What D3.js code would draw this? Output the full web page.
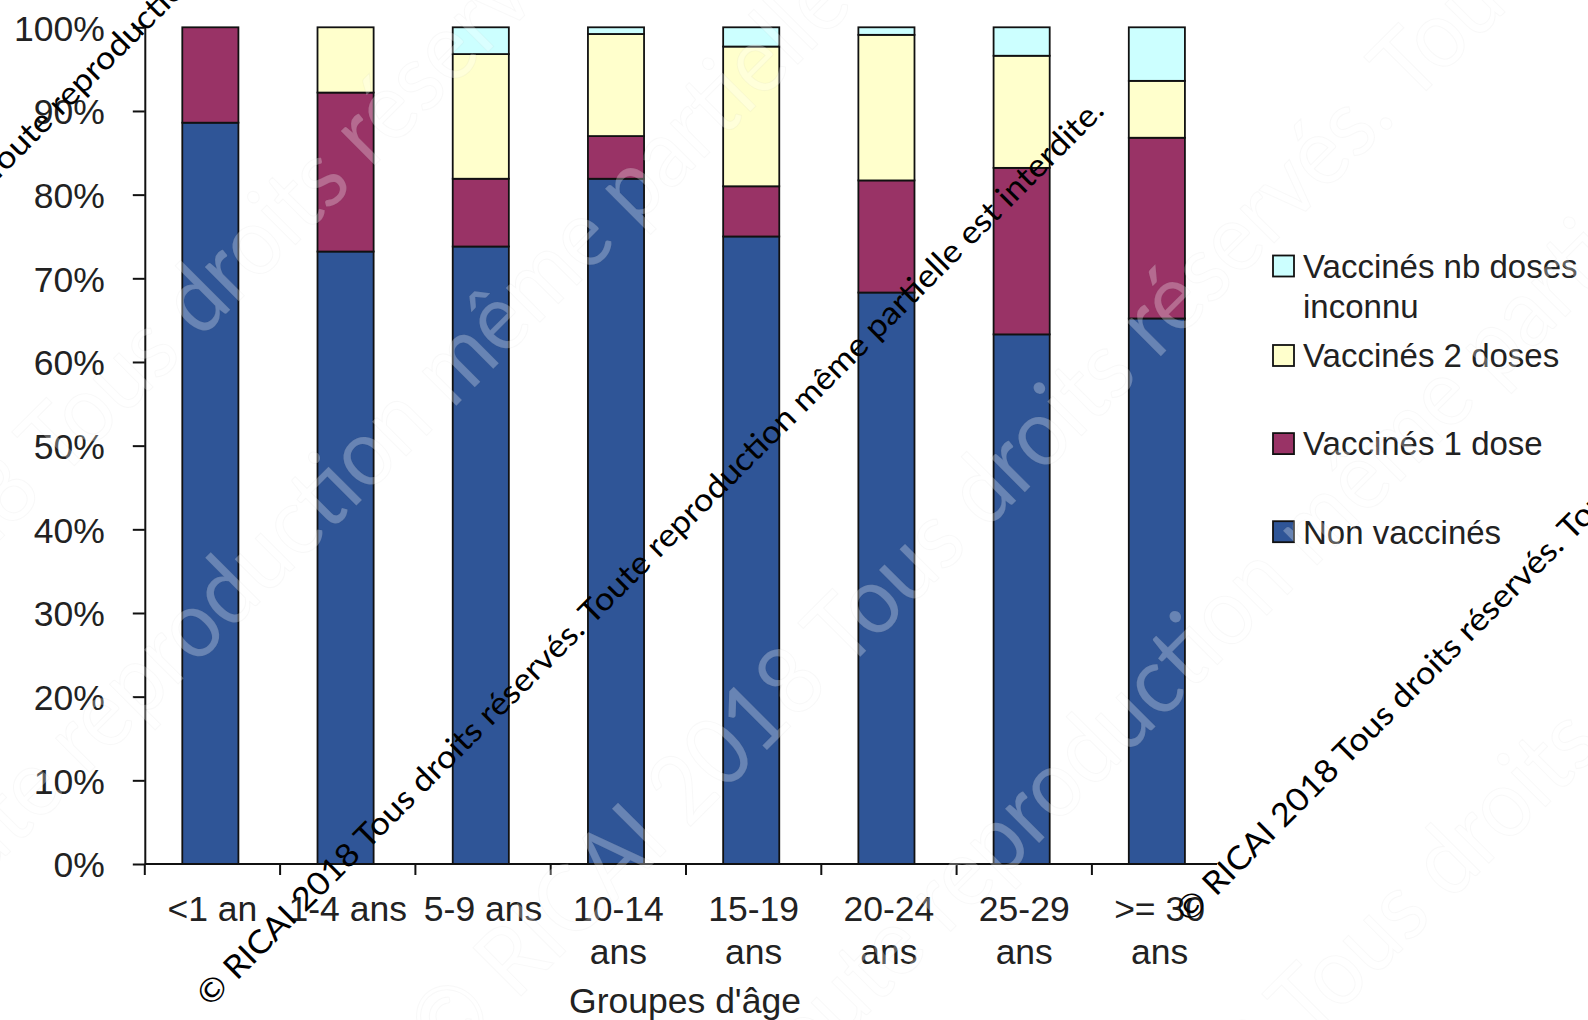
<!DOCTYPE html>
<html><head><meta charset="utf-8">
<script src="https://cdn.jsdelivr.net/npm/d3@7"></script>
<style>html,body{margin:0;padding:0;background:#fff;} svg{display:block}</style>
</head><body>
<script>
// ---------- data ----------
const categories = ["<1 an","1-4 ans","5-9 ans","10-14 ans","15-19 ans","20-24 ans","25-29 ans",">= 30 ans"];
const categoryLabelLines = [["<1 an"],["1-4 ans"],["5-9 ans"],["10-14","ans"],["15-19","ans"],["20-24","ans"],["25-29","ans"],[">= 30","ans"]];
const seriesKeys = ["Non vaccinés","Vaccinés 1 dose","Vaccinés 2 doses","Vaccinés nb doses inconnu"];
const nonVaccines     = [88.6, 73.2, 73.8, 81.9, 75.0, 68.3, 63.3, 65.2];
const vaccines1Dose   = [11.4, 19.0,  8.1,  5.1,  6.0, 13.4, 19.9, 21.6];
const vaccines2Doses  = [ 0.0,  7.8, 14.9, 12.2, 16.7, 17.4, 13.4,  6.8];
const vaccinesInconnu = [ 0.0,  0.0,  3.2,  0.8,  2.3,  0.9,  3.4,  6.4];
const seriesColors = ["#2F5597","#993366","#FFFFCC","#CCFFFF"];
const yTicks = [0,10,20,30,40,50,60,70,80,90,100];
const legendOrder = [3,2,1,0];
const legendLabelLines = [["Vaccinés nb doses","inconnu"],["Vaccinés 2 doses"],["Vaccinés 1 dose"],["Non vaccinés"]];
const xTitle = "Groupes d'âge";
const watermarkText = "© RICAI 2018 Tous droits réservés. Toute reproduction même partielle est interdite.";

// ---------- layout ----------
const W = 1588, H = 1020;
const X0 = 144.8, X1 = 1227.2, Y0 = 864, Y100 = 27.3;
const FONT = "'Liberation Sans', Arial, sans-serif";
const WM_FONT = "Lato, 'Open Sans', sans-serif";
const TXT = "#222";

const svg = d3.select("body").append("svg").attr("width", W).attr("height", H);

const rows = categories.map((c, i) => ({
  cat: c,
  [seriesKeys[0]]: nonVaccines[i],
  [seriesKeys[1]]: vaccines1Dose[i],
  [seriesKeys[2]]: vaccines2Doses[i],
  [seriesKeys[3]]: vaccinesInconnu[i]
}));
const stacked = d3.stack().keys(seriesKeys)(rows);

const x = d3.scaleBand().domain(categories).range([X0, X1])
  .paddingInner(0.585).paddingOuter(0.295).align(0.47);
const xCat = d3.scaleBand().domain(categories).range([X0, X1]).padding(0);
const y = d3.scaleLinear().domain([0, 100]).range([Y0, Y100]);
const color = d3.scaleOrdinal().domain(seriesKeys).range(seriesColors);

// ---------- bars ----------
const barsG = svg.append("g");
barsG.selectAll("g.series").data(stacked).join("g")
  .attr("fill", d => color(d.key))
  .selectAll("rect").data(d => d.filter(p => p[1] - p[0] > 0)).join("rect")
  .attr("x", d => x(d.data.cat))
  .attr("width", x.bandwidth())
  .attr("y", d => y(d[1]))
  .attr("height", d => y(d[0]) - y(d[1]))
  .attr("stroke", "#111").attr("stroke-width", 1.8);

// ---------- y axis ----------
const yAxis = d3.axisLeft(y).tickValues(yTicks).tickSize(12).tickSizeOuter(0)
  .tickPadding(28).tickFormat(d => d + "%");
const yG = svg.append("g").attr("transform", `translate(${X0},0)`).call(yAxis);
yG.select(".domain").attr("stroke", "#111").attr("stroke-width", 2);
yG.selectAll(".tick line").attr("stroke", "#111").attr("stroke-width", 2);
yG.selectAll(".tick text").attr("fill", TXT).style("font-family", FONT).style("font-size", "35.5px").attr("dy", "0.36em");

// ---------- x axis ----------
const xG = svg.append("g");
xG.append("line").attr("x1", X0).attr("x2", 1217).attr("y1", Y0).attr("y2", Y0)
  .attr("stroke", "#111").attr("stroke-width", 2);
xG.selectAll("line.tk").data(categories).join("line").attr("class", "tk")
  .attr("x1", d => xCat(d)).attr("x2", d => xCat(d))
  .attr("y1", Y0).attr("y2", Y0 + 11)
  .attr("stroke", "#111").attr("stroke-width", 2);
xG.selectAll("text.lbl").data(categories).join("text").attr("class", "lbl")
  .attr("text-anchor", "middle").attr("fill", TXT)
  .style("font-family", FONT).style("font-size", "35.5px")
  .each(function(d, i) {
    const t = d3.select(this);
    categoryLabelLines[i].forEach((ln, j) => {
      t.append("tspan").attr("x", xCat(d) + xCat.bandwidth() / 2).attr("y", 921 + j * 43).text(ln);
    });
  });
svg.append("text").attr("x", 685).attr("y", 1013).attr("text-anchor", "middle")
  .attr("fill", TXT).style("font-family", FONT).style("font-size", "35.5px").text(xTitle);

// ---------- legend ----------
const legendY = [266, 355.5, 443.6, 531.7];
const legG = svg.append("g");
legendOrder.forEach((si, k) => {
  const cy = legendY[k];
  legG.append("rect").attr("x", 1273).attr("y", cy - 10.5).attr("width", 21).attr("height", 21)
    .attr("fill", seriesColors[si]).attr("stroke", "#111").attr("stroke-width", 1.8);
  const t = legG.append("text").attr("fill", TXT).style("font-family", FONT).style("font-size", "33px");
  legendLabelLines[k].forEach((ln, j) => {
    t.append("tspan").attr("x", 1303).attr("y", cy + 11.8 + j * 40).text(ln);
  });
});

// ---------- watermarks ----------
function placeWatermark(layer, anchorIdx, ax, ay, fontSize, kx, styler) {
  const g = layer.append("g").attr("transform", `translate(${ax},${ay}) rotate(-45) scale(${kx},1)`);
  const t = g.append("text").attr("x", 0).attr("y", 0)
    .style("font-family", WM_FONT).style("font-size", fontSize + "px").text(watermarkText);
  styler(t);
  const off = anchorIdx > 0 ? t.node().getSubStringLength(0, anchorIdx) : 0;
  t.attr("x", -off);
  return t;
}

// faint white watermark (large)
const whiteLayer = svg.append("g");
const whiteStyle = t => t.attr("fill", "rgba(255,255,255,0.28)").attr("stroke", "rgba(0,0,0,0.028)").attr("stroke-width", 1.2);
const wKx = 0.92, wSize = 95;
placeWatermark(whiteLayer, 18, 200, 340, wSize, wKx, whiteStyle);   // droits réservés
placeWatermark(whiteLayer, 54, 452, 410, wSize, wKx, whiteStyle);   // même partielle
placeWatermark(whiteLayer, 13, 845, 672, wSize, wKx, whiteStyle);   // Tous droits
placeWatermark(whiteLayer, 43, 1000, 882, wSize, wKx, whiteStyle);  // production même
placeWatermark(whiteLayer, 18, 1450, 902, wSize, wKx, whiteStyle);  // droits

// black watermark lines
const blackLayer = svg.append("g");
const probe = blackLayer.append("text").style("font-family", WM_FONT).style("font-size", "32px").text(watermarkText);
const natural = probe.node().getComputedTextLength();
probe.remove();
const bKx = 1267 / natural;
const blackStyle = t => t.attr("fill", "#000");
placeWatermark(blackLayer, 0, 210, 1008, 32, bKx, blackStyle);
placeWatermark(blackLayer, 0, 1189, 924, 32, bKx, blackStyle);
placeWatermark(blackLayer, 35, -6, 184, 32, bKx, blackStyle);
</script>
</body></html>
